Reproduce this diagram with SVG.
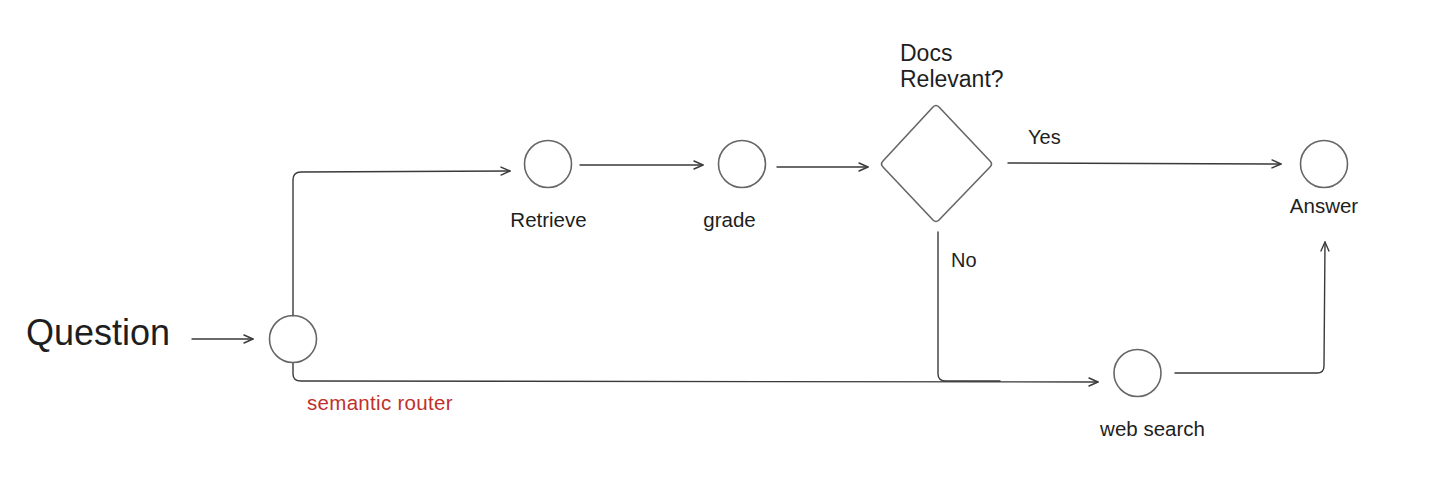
<svg xmlns="http://www.w3.org/2000/svg" width="1452" height="493" viewBox="0 0 1452 493">
<style>
.bg{fill:#ffffff}
.node{fill:none;stroke:#666666;stroke-width:1.6}
.edge{fill:none;stroke:#3a3a3a;stroke-width:1.4;stroke-linecap:round;stroke-linejoin:round}
.lbl{font-family:"Liberation Sans",Arial,sans-serif;font-size:20.5px;fill:#1e1e1e}
.big{font-family:"Liberation Sans",Arial,sans-serif;font-size:36px;fill:#1e1e1e}
.red{font-family:"Liberation Sans",Arial,sans-serif;font-size:20.5px;fill:#c0302a;letter-spacing:0.3px}
</style>
<defs>
<marker id="arr" viewBox="0 0 12 12" refX="11" refY="6" markerWidth="12" markerHeight="12" markerUnits="userSpaceOnUse" orient="auto">
<path d="M2,2 L11,6 L2,10" fill="none" stroke="#3a3a3a" stroke-width="1.4" stroke-linecap="round" stroke-linejoin="round"/>
</marker>
</defs>
<rect class="bg" x="0" y="0" width="1452" height="493"/>
<g id="connectors">
<path class="edge" d="M192,339 L253,339" marker-end="url(#arr)"/>
<path class="edge" d="M293,316 L293,180 Q293,172 301,172 L510,171" marker-end="url(#arr)"/>
<path class="edge" d="M293,363 L293,374 Q293,381 301,381 L1098,382" marker-end="url(#arr)"/>
<path class="edge" d="M580,165 L703,165" marker-end="url(#arr)"/>
<path class="edge" d="M777,167 L868,167" marker-end="url(#arr)"/>
<path class="edge" d="M1008,163 L1281,164" marker-end="url(#arr)"/>
<path class="edge" d="M938,232 L938,374 Q938,381 946,381 L1000,381"/>
<path class="edge" d="M1175,373 L1317,373 Q1324,373 1324,366 L1325,242" marker-end="url(#arr)"/>
</g>
<g id="question"><text class="big" x="26" y="345">Question</text></g>
<g id="router">
<circle class="node" cx="293" cy="339" r="23.5"/>
<text class="red" x="307" y="410">semantic router</text>
</g>
<g id="retrieve">
<circle class="node" cx="548" cy="164" r="23.5"/>
<text class="lbl" x="548.5" y="227" text-anchor="middle">Retrieve</text>
</g>
<g id="grade">
<circle class="node" cx="742" cy="164" r="23.5"/>
<text class="lbl" x="729.5" y="227" text-anchor="middle">grade</text>
</g>
<g id="docs-relevant">
<path class="node" d="M933,107 Q936,104 939,107 L990,161 Q993,164 990,167 L939,220 Q936,223 933,220 L883,167 Q880,164 883,161 Z"/>
<text class="lbl" x="900" y="61" style="font-size:23px">Docs</text>
<text class="lbl" x="900" y="87" style="font-size:23px">Relevant?</text>
<text class="lbl" x="1028" y="144" style="font-size:20px">Yes</text>
<text class="lbl" x="951" y="267" style="font-size:20px">No</text>
</g>
<g id="answer">
<circle class="node" cx="1324" cy="164" r="23.5"/>
<text class="lbl" x="1324" y="213" text-anchor="middle">Answer</text>
</g>
<g id="web-search">
<circle class="node" cx="1137.5" cy="373" r="23.5"/>
<text class="lbl" x="1152.5" y="436" text-anchor="middle">web search</text>
</g>
</svg>
